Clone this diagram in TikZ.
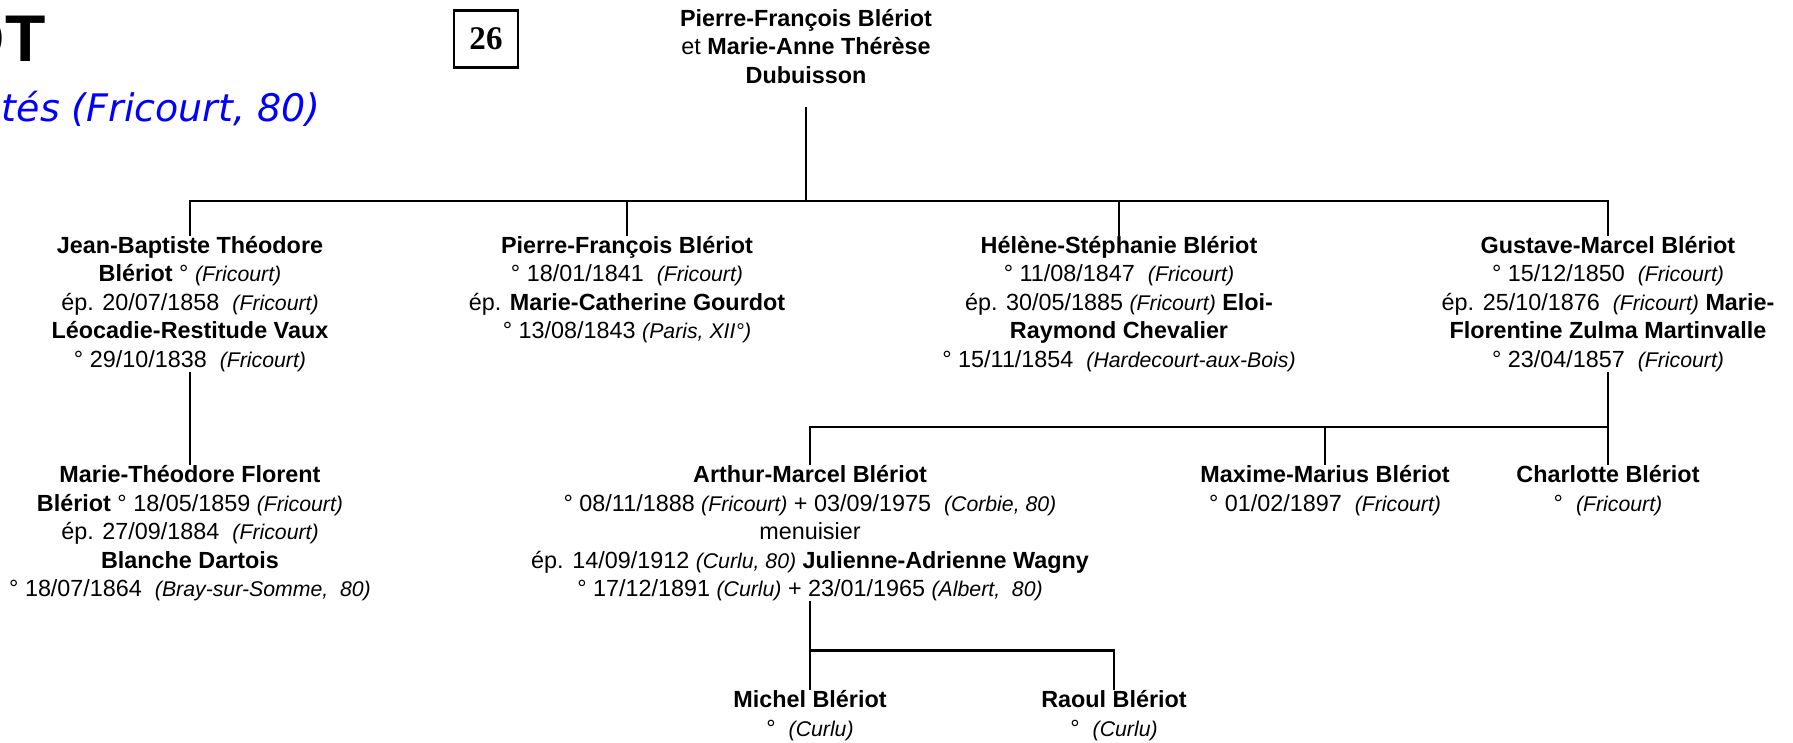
\documentclass[tikz,border=0pt]{standalone}
\usepackage{fontspec}
\setmainfont{Liberation Sans}
\newfontfamily\verdanafont{DejaVu Sans}[ItalicFont={DejaVu Sans Oblique}]
\newfontfamily\timesfont{Liberation Serif}
\usepackage{tikz}
\usetikzlibrary{positioning}
\newcommand{\lieu}[1]{{\fontsize{12.1}{16.2}\selectfont\itshape (#1)}}
\tikzstyle{personne} = [align=center, inner sep=0pt, font=\fontsize{13.3}{16.2}\selectfont]
\tikzstyle{lien} = [line width=1.5pt]
\tikzstyle{titre} = [inner sep=0pt, font=\fontsize{37.6}{40}\selectfont\bfseries]
\tikzstyle{soustitre} = [inner sep=0pt, text=blue, font=\verdanafont\fontsize{21.6}{24}\selectfont\itshape]
\tikzstyle{numero} = [rectangle, draw=black, line width=1.3pt, minimum width=1.28cm, minimum height=1.14cm, font=\timesfont\fontsize{18.8}{20}\selectfont\bfseries]

\begin{document}
\begin{tikzpicture}[node distance=0.7cm]
			\useasboundingbox (0,0) rectangle (35.86,-14.84);
			\node (titre) [titre, anchor=base east] at (0.92,-1.24) {OT};
			\node (commune) [soustitre, anchor=base east] at (6.42,-2.43) {tés (Fricourt, 80)};
			\node (page) [numero] at (9.72,-0.78) {26};

			\node (racine) [personne, anchor=north] at (16.12,-0.18) {\textbf{Pierre-François Blériot}\\et \textbf{Marie-Anne Thérèse}\\\textbf{Dubuisson}};
			\coordinate [below=2.34cm of racine] (b1);

			\node (jean) [personne, below=of b1, xshift=-12.32cm] {\textbf{Jean-Baptiste Théodore}\\\textbf{Blériot} ° \lieu{Fricourt}\\ép. 20/07/1858~ \lieu{Fricourt}\\\textbf{Léocadie-Restitude Vaux}\\° 29/10/1838~ \lieu{Fricourt}};
			\node (pierre) [personne, below=of b1, xshift=-3.58cm] {\textbf{Pierre-François Blériot}\\° 18/01/1841~ \lieu{Fricourt}\\ép. \textbf{Marie-Catherine Gourdot}\\° 13/08/1843 \lieu{Paris, XII°}};
			\node (helene) [personne, below=of b1, xshift=6.26cm] {\textbf{Hélène-Stéphanie Blériot}\\° 11/08/1847~ \lieu{Fricourt}\\ép. 30/05/1885 \lieu{Fricourt} \textbf{Eloi-}\\\textbf{Raymond Chevalier}\\° 15/11/1854~ \lieu{Hardecourt-aux-Bois}};
			\node (gustave) [personne, below=of b1, xshift=16.04cm] {\textbf{Gustave-Marcel Blériot}\\° 15/12/1850~ \lieu{Fricourt}\\ép. 25/10/1876~ \lieu{Fricourt} \textbf{Marie-}\\\textbf{Florentine Zulma Martinvalle}\\° 23/04/1857~ \lieu{Fricourt}};

			\node (marie) [personne, below=1.86cm of jean] {\textbf{Marie-Théodore Florent}\\\textbf{Blériot} ° 18/05/1859 \lieu{Fricourt}\\ép. 27/09/1884~ \lieu{Fricourt}\\\textbf{Blanche Dartois}\\° 18/07/1864~ \lieu{Bray-sur-Somme,~ 80}};
			\coordinate [below=1.1cm of gustave] (b2);
			\node (arthur) [personne, below=0.76cm of b2, xshift=-15.96cm] {\textbf{Arthur-Marcel Blériot}\\° 08/11/1888 \lieu{Fricourt} + 03/09/1975~ \lieu{Corbie, 80}\\menuisier\\ép. 14/09/1912 \lieu{Curlu, 80} \textbf{Julienne-Adrienne Wagny}\\° 17/12/1891 \lieu{Curlu} + 23/01/1965 \lieu{Albert,~ 80}};
			\node (maxime) [personne, below=0.76cm of b2, xshift=-5.66cm] {\textbf{Maxime-Marius Blériot}\\° 01/02/1897~ \lieu{Fricourt}};
			\node (charlotte) [personne, below=0.76cm of b2] {\textbf{Charlotte Blériot}\\°~ \lieu{Fricourt}};

			\coordinate [below=0.98cm of arthur] (b3);
			\node (michel) [personne, below=0.8cm of b3] {\textbf{Michel Blériot}\\°~ \lieu{Curlu}};
			\node (raoul) [personne, below=0.8cm of b3, xshift=6.08cm] {\textbf{Raoul Blériot}\\°~ \lieu{Curlu}};

			\draw [lien] ([yshift=-0.46cm]racine.south) -- (b1);
			\draw [lien] (jean.north) |- (b1) -| (gustave.north);
			\draw [lien] (pierre.north) -- (pierre.north |- b1);
			\draw [lien] (helene.north) -- (helene.north |- b1);
			\draw [lien] (jean) -- (marie);
			\draw [lien] (gustave) -- (charlotte);
			\draw [lien] (arthur.north) |- (b2);
			\draw [lien] (maxime.north) -- (maxime.north |- b2);
			\draw [lien] (arthur) -- (michel);
			\draw [lien] (raoul.north) |- (b3);
		\end{tikzpicture}
\end{document}
